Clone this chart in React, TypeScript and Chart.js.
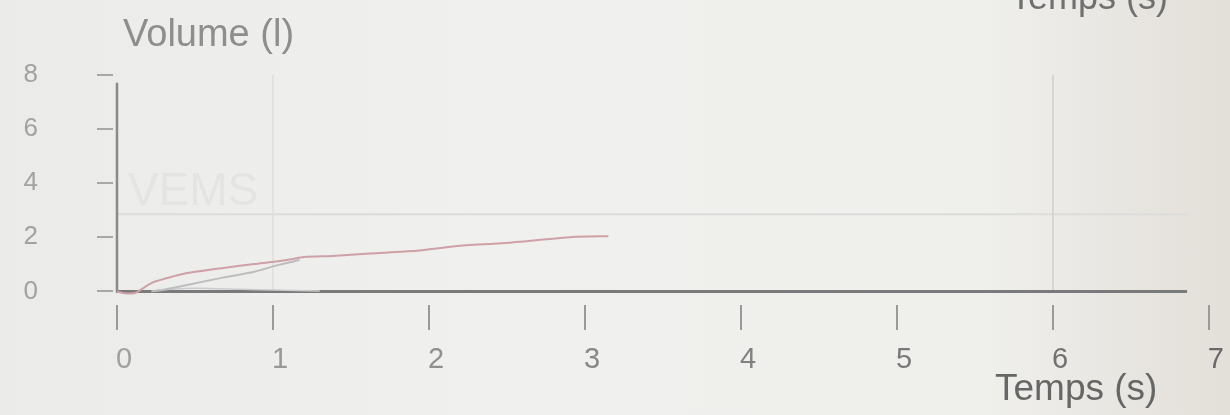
import React, { useEffect, useRef } from "react";
import { Chart, registerables } from "chart.js";

Chart.register(...registerables);

// ---- data ----
const xTickValues = [0, 1, 2, 3, 4, 5, 6, 7];
const yTickValues = [0, 2, 4, 6, 8];

// main (red) expiration curve : time (s) / volume (l)
const redTime = [0, 0.05, 0.115, 0.15, 0.2, 0.24, 0.35, 0.45, 0.67, 0.88, 1.09, 1.2, 1.38, 1.62, 1.92, 2.17, 2.49, 2.92, 3.15];
const redVolume = [0, -0.07, -0.06, 0.05, 0.24, 0.36, 0.54, 0.68, 0.86, 1.01, 1.16, 1.27, 1.31, 1.4, 1.5, 1.67, 1.79, 2.01, 2.04];

// second (grey) trial, merging with the red one near 1 s
const greyTime = [0.22, 0.29, 0.45, 0.67, 0.88, 1.03, 1.17];
const greyVolume = [0, 0.05, 0.24, 0.5, 0.73, 0.97, 1.16];

// third faint trial lying on the base line
const grey2Time = [0.25, 0.5, 0.8, 1.0, 1.3];
const grey2Volume = [0.05, 0.12, 0.08, 0.05, 0.02];

const vemsLevel = 2.85;
const gridTimes = [1, 6];
const axisEndTime = 6.86;
const yAxisTop = 7.7;
const gridTop = 8;

const yTitle = "Volume (l)";
const xTitle = "Temps (s)";
const vemsLabel = "VEMS";

const FONT = "'Liberation Sans', Arial, Helvetica, sans-serif";

const pts = (xs: number[], ys: number[]) => xs.map((x, i) => ({ x, y: ys[i] }));

const textPlugin = {
  id: "texts",
  beforeDatasetsDraw(chart: any) {
    const { ctx, scales } = chart;
    const x = scales.x;
    const y = scales.y;
    ctx.save();
    ctx.textAlign = "left";
    ctx.textBaseline = "alphabetic";
    ctx.fillStyle = "#e4e4e2";
    ctx.font = `46px ${FONT}`;
    ctx.fillText(vemsLabel, x.getPixelForValue(0.07), y.getPixelForValue(3.18));
    ctx.restore();
  },
  afterDraw(chart: any) {
    const { ctx } = chart;
    ctx.save();
    ctx.textAlign = "left";
    ctx.textBaseline = "alphabetic";
    ctx.fillStyle = "#8e8e8e";
    ctx.font = `38px ${FONT}`;
    ctx.fillText(yTitle, 123, 46);
    ctx.fillStyle = "#666666";
    ctx.font = `37px ${FONT}`;
    ctx.fillText(xTitle, 995, 400);
    ctx.fillStyle = "#707070";
    ctx.font = `36px ${FONT}`;
    ctx.fillText(xTitle, 1010, 9);
    ctx.restore();
  },
};

export default function App() {
  const ref = useRef<HTMLCanvasElement | null>(null);

  useEffect(() => {
    if (!ref.current) return;
    const line = (data: any[], color: string, width: number, extra: any = {}) => ({
      data,
      borderColor: color,
      borderWidth: width,
      pointRadius: 0,
      fill: false,
      tension: 0,
      ...extra,
    });

    const chart = new Chart(ref.current, {
      type: "line",
      data: {
        datasets: [
          line(pts(redTime, redVolume), "rgb(206,160,168)", 2, { tension: 0.25 }),
          line(pts(greyTime, greyVolume), "rgb(190,188,190)", 2, { tension: 0.25 }),
          line(pts(grey2Time, grey2Volume), "rgb(205,203,205)", 1.5, { tension: 0.25 }),
          line([{ x: 0, y: 0 }, { x: axisEndTime, y: 0 }], "#7a7a7a", 3),
          line([{ x: 0, y: -0.05 }, { x: 0, y: yAxisTop }], "#8a8a8a", 2.5),
          line([{ x: gridTimes[0], y: 0 }, { x: gridTimes[0], y: gridTop }], "#dedede", 1.5),
          line([{ x: gridTimes[1], y: 0 }, { x: gridTimes[1], y: gridTop }], "#cfcfcf", 1.5),
          line([{ x: 0, y: vemsLevel }, { x: axisEndTime, y: vemsLevel }], "#dcdcda", 2),
        ],
      },
      options: {
        animation: false,
        responsive: false,
        maintainAspectRatio: false,
        parsing: true,
        layout: { padding: { top: 74, right: 18, left: 0, bottom: 0 } },
        plugins: { legend: { display: false }, tooltip: { enabled: false } },
        scales: {
          x: {
            type: "linear",
            min: -4 / 156.4,
            max: 7,
            afterFit: (s: any) => {
              s.height = 110;
            },
            afterBuildTicks: (s: any) => {
              s.ticks = xTickValues.map((v) => ({ value: v }));
            },
            border: { display: false },
            grid: { drawOnChartArea: false, drawTicks: true, tickLength: 25, color: "#9a9a9a", lineWidth: 2 },
            ticks: {
              padding: 13,
              labelOffset: 7,
              maxRotation: 0,
              autoSkip: false,
              font: { family: FONT, size: 29 },
              color: (c: any) => {
                const t = (c.index ?? 0) / 7;
                const g = Math.round(160 - 55 * t);
                return `rgb(${g},${g},${g})`;
              },
              callback: (v: any) => String(v),
            },
          },
          y: {
            type: "linear",
            min: -0.5,
            max: 8,
            afterFit: (s: any) => {
              s.width = 113;
            },
            afterBuildTicks: (s: any) => {
              s.ticks = yTickValues.map((v) => ({ value: v }));
            },
            border: { display: false },
            grid: { drawOnChartArea: false, drawTicks: true, tickLength: 16, color: "#a8a8a8", lineWidth: 2 },
            ticks: {
              padding: 59,
              font: { family: FONT, size: 26 },
              color: "#a2a2a2",
              callback: (v: any) => String(v),
            },
          },
        },
      },
      plugins: [textPlugin],
    } as any);
    return () => chart.destroy();
  }, []);

  return (
    <div
      style={{
        position: "fixed",
        left: 0,
        top: 0,
        width: 1230,
        height: 415,
        background: "linear-gradient(90deg, #ebebe9 0%, #f0f0ee 40%, #efefec 80%, #e3dfd9 100%)",
      }}
    >
      <canvas ref={ref} width={1230} height={415} style={{ display: "block", width: 1230, height: 415 }} />
    </div>
  );
}
